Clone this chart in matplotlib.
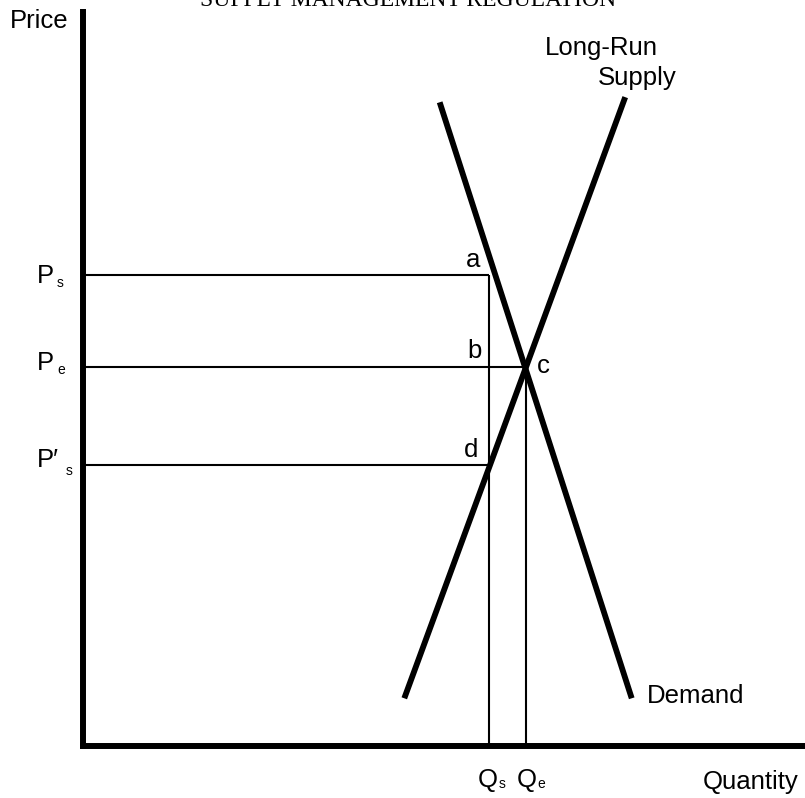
import matplotlib.pyplot as plt

plt.rcParams['font.family'] = ['Liberation Sans', 'DejaVu Sans']

# Curves (quantity, price on a 0-100 scale)
demand_q = [49.4, 76.0]
demand_p = [87.7, 6.5]
supply_q = [44.5, 75.1]
supply_p = [6.5, 88.4]

# Price levels and quantities
price_s = 64.2      # P_s
price_e = 51.6      # P_e
price_s2 = 38.3     # P'_s
qty_s = 56.3        # Q_s
qty_e = 61.3        # Q_e

fig = plt.figure(figsize=(8.05, 7.98), dpi=100)
ax = fig.add_axes([83 / 805, 52 / 798, 722 / 805, 734 / 798])
ax.set_xlim(0, 100)
ax.set_ylim(0, 100)
ax.set_xticks([])
ax.set_yticks([])
for side in ['top', 'right']:
    ax.spines[side].set_visible(False)
for side in ['left', 'bottom']:
    ax.spines[side].set_linewidth(4.3)
    ax.spines[side].set_capstyle('projecting')

thin = dict(color='black', lw=1.5, solid_capstyle='butt')
thick = dict(color='black', lw=4.2, solid_capstyle='butt')

# guide lines
ax.plot([0, qty_s], [price_s, price_s], **thin)
ax.plot([0, qty_e], [price_e, price_e], **thin)
ax.plot([0, qty_s], [price_s2, price_s2], **thin)
ax.plot([qty_s, qty_s], [0, price_s], **thin)
ax.plot([qty_e, qty_e], [0, price_e], **thin)

# demand and supply
ax.plot(demand_q, demand_p, **thick)
ax.plot(supply_q, supply_p, **thick)

big = 18.5
small = 10


def label(x, y, s, dx, dy, size=big, **kw):
    ax.annotate(s, (x, y), xytext=(dx, dy), textcoords='offset pixels',
                ha='left', va='baseline', fontsize=size,
                annotation_clip=False, **kw)


# price labels
label(0, price_s, 'P', -46, -8)
label(0, price_s, 's', -26, -12, small)
label(0, price_e, 'P', -46, -3)
label(0, price_e, 'e', -26, -7, small)
label(0, price_s2, 'P′', -46, -2)
label(0, price_s2, 's', -17, -10, small)

# quantity labels
label(qty_s, 0, 'Q', -12, -41)
label(qty_s, 0, 's', 9, -42, small)
label(qty_e, 0, 'Q', -9, -41)
label(qty_e, 0, 'e', 12, -42, small)

# points
label(qty_s, price_s, 'a', -24, 8)
label(qty_s, price_e, 'b', -22, 9)
label(qty_e, price_e, 'c', 11, -6)
label(qty_s, price_s2, 'd', -26, 8)

# curve names
label(supply_q[1], supply_p[1], 'Long-Run', -80, 42)
label(supply_q[1], supply_p[1], 'Supply', -27, 12)
label(demand_q[1], demand_p[1], 'Demand', 15, -5)

# axis names
label(0, 100, 'Price', -73, -16)
ax.annotate('Quantity', (100, 0), xytext=(-7, -43), textcoords='offset pixels',
            ha='right', va='baseline', fontsize=big, annotation_clip=False)

# running head, cut off at the top of the page
fig.text(408 / 805, 1 - 6 / 798, 'SUPPLY MANAGEMENT REGULATION',
         ha='center', va='baseline', fontsize=17, family='Liberation Serif')

fig.savefig('out.png', dpi=100)
